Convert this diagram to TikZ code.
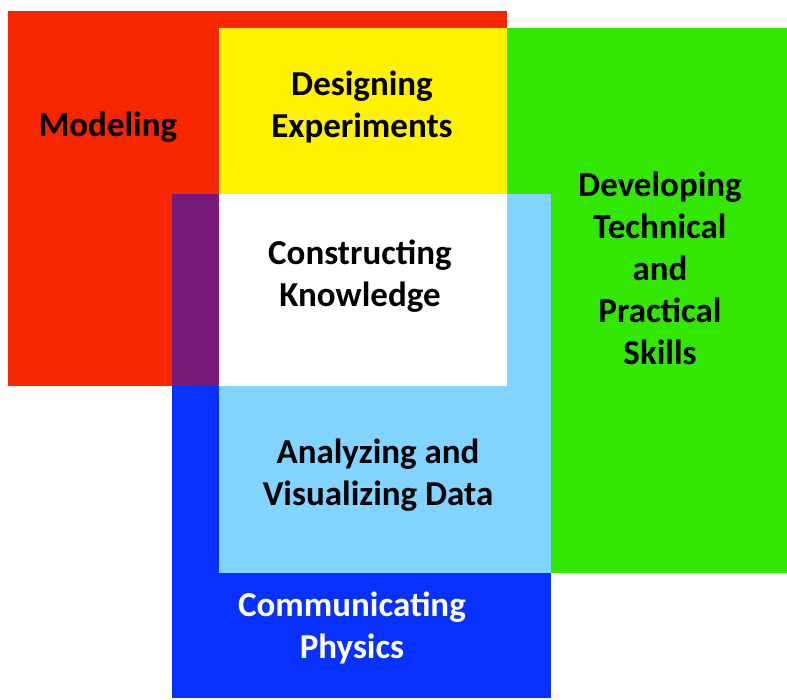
\documentclass[tikz,border=0pt]{standalone}
\usepackage{fontspec}
\setmainfont{Carlito}
\definecolor{cred}{RGB}{245,38,0}
\definecolor{cyellow}{RGB}{255,242,0}
\definecolor{cgreen}{RGB}{50,232,0}
\definecolor{cblue}{RGB}{8,48,255}
\definecolor{clblue}{RGB}{128,212,255}
\definecolor{cpurple}{RGB}{122,26,120}
\tikzset{
  lbl/.style={font=\fontsize{35}{42}\selectfont\bfseries, align=center, inner sep=0pt, text=black},
  wlbl/.style={lbl, text=white}
}
\begin{document}
\begin{tikzpicture}[x=1pt,y=-1pt]
\useasboundingbox (0,0) rectangle (787,700);
\fill[white] (0,0) rectangle (787,700);
\fill[cred] (8,11) rectangle (507,386);
\fill[cgreen] (507,28) rectangle (787,573);
\fill[cblue] (172,194) rectangle (551,698);
\fill[cyellow] (219,28) rectangle (507,194);
\fill[clblue] (219,194) rectangle (551,573);
\fill[white] (219,194) rectangle (507,386);
\fill[cpurple] (172,194) rectangle (219,386);
\node[lbl] (modeling) at (108,127) {Modeling};
\node[lbl] (designing) at (362,107) {Designing\\Experiments};
\node[lbl] (developing) at (660,268) {Developing\\Technical\\and\\Practical\\Skills};
\node[lbl] (constructing) at (360,276) {Constructing\\Knowledge};
\node[lbl] (analyzing) at (378,475) {Analyzing and\\Visualizing Data};
\node[wlbl] (communicating) at (352,628) {Communicating\\Physics};
\end{tikzpicture}
\end{document}
